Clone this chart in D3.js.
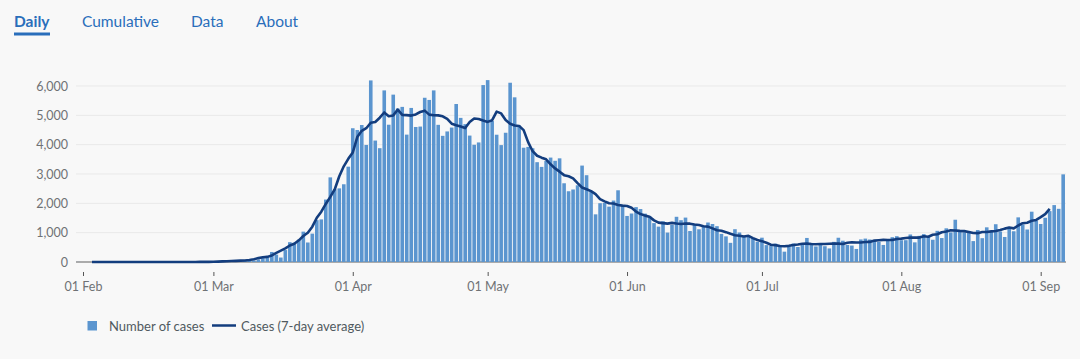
<!DOCTYPE html>
<html><head><meta charset="utf-8">
<script src="https://cdn.jsdelivr.net/npm/d3@7"></script>
<style>
html,body{margin:0;padding:0;background:#f8f8f8;}
svg{display:block;font-family:Lato,"Noto Sans",sans-serif;}
</style></head><body>
<svg id="chart" width="1080" height="359"></svg>
<script>
// ---- data ----
const firstDay = "2020-01-31";          // first bar
const firstAvgDay = "2020-02-03";       // first point of the 7-day average
const tabs = ["Daily", "Cumulative", "Data", "About"];
const yTicks = [0, 1000, 2000, 3000, 4000, 5000, 6000];
const legendLabels = ["Number of cases", "Cases (7-day average)"];

const casesJan = [2];
const casesFeb = [0,0,0,0,0,1,0,0,1,4,1,0,0,0,0,0,0,0,0,0,0,0,4,0,0,0,2,5,3];
const casesMar = [12,4,11,34,30,48,43,67,48,52,83,134,208,342,251,152,407,676,660,760,1035,665,967,1427,1452,2129,2885,2480,2510,2650,3250];
const casesApr = [4560,4500,4670,3990,6190,4140,3880,5850,4680,5706,5234,5288,4342,5252,4603,4617,5599,5525,5850,4676,4301,4451,4583,5386,4913,4700,4310,3996,4076,6032];
const casesMay = [6201,4806,4339,3985,4406,6111,5614,4649,3896,3923,3877,3403,3242,3446,3560,3450,3534,2684,2412,2472,2615,3287,2959,2409,1625,2004,2013,1887,2095,2445,1936];
const casesJun = [1570,1653,1871,1805,1650,1557,1326,1205,1387,1003,1266,1541,1425,1514,1056,1279,1115,1218,1346,1295,1221,958,874,653,1118,1006,890,901,815,689];
const casesJul = [829,576,544,624,516,352,581,630,512,642,820,650,530,598,538,463,687,827,726,580,560,445,769,798,767,747,685,581,763,846,880];
const casesAug = [743,744,938,670,892,950,871,758,1062,816,1148,1009,1441,1062,1012,1040,713,1089,812,1182,1033,1288,1041,853,1184,1048,1522,1276,1108,1715,1406];
const casesSep = [1295,1508,1735,1940,1813,2988];

const avgFeb = [0,0,0,0,1,1,1,1,1,1,1,0,0,0,0,0,0,1,1,1,1,1,2,2,3,4,5];
const avgMar = [10,14,20,26,34,40,46,53,68,91,133,160,175,225,310,385,464,563,622,739,884,995,1205,1509,1715,1979,2219,2479,2923,3262,3517];
const avgApr = [3733,4259,4471,4561,4746,4771,4919,5097,4968,4997,5193,5015,5006,4991,5032,5113,5160,5024,5003,4998,4967,4880,4716,4663,4620,4566,4773,4890,4874,4823];
const avgMay = [4776,4835,5126,5066,4844,4714,4655,4639,4496,4086,3777,3621,3557,3502,3331,3190,3080,2961,2922,2852,2691,2540,2482,2416,2312,2142,2068,2001,1993,1943,1922];
const avgJun = [1911,1847,1720,1633,1581,1543,1419,1342,1326,1308,1334,1313,1298,1314,1307,1279,1260,1219,1205,1147,1081,1066,1018,960,914,894,867,893,815,749];
const avgJul = [711,656,590,575,546,537,551,579,598,624,626,613,606,612,613,624,631,626,613,656,672,664,667,682,685,730,741,753,749,749,785];
const avgAug = [798,816,831,830,832,877,860,928,945,1015,1042,1079,1075,1061,1052,1024,987,983,1022,1023,1043,1056,1090,1138,1173,1147,1244,1323,1339,1404,1435];
const avgSep = [1530,1630,1812];

// ---- build series ----
const parse = d3.utcParse("%Y-%m-%d");
const cases = [].concat(casesJan, casesFeb, casesMar, casesApr, casesMay, casesJun, casesJul, casesAug, casesSep);
const avg = [].concat(avgFeb, avgMar, avgApr, avgMay, avgJun, avgJul, avgAug, avgSep);
const d0 = parse(firstDay), a0 = parse(firstAvgDay);
const barData = cases.map((v, i) => ({date: d3.utcDay.offset(d0, i), value: v}));
const avgData = avg.map((v, i) => ({date: d3.utcDay.offset(a0, i), value: v}));

// ---- layout ----
const svg = d3.select("#chart");
const BAR = "#5b95cf", LINE = "#133d7e", BLUE = "#2a6ebb", TXT = "#6f7275";

const x = d3.scaleUtc()
  .domain([parse("2020-02-01"), parse("2020-09-01")])
  .range([83, 1040.7]);
const dayW = x(parse("2020-02-02")) - x(parse("2020-02-01"));
const y = d3.scaleLinear().domain([0, 6000]).range([262, 86]);
const left = 76, right = 1066;

// tabs
const tabX = [14, 82, 191, 256];
svg.selectAll("text.tab").data(tabs).join("text")
  .attr("class", "tab")
  .attr("x", (d, i) => tabX[i]).attr("y", 27)
  .attr("fill", BLUE)
  .attr("font-size", 15.5)
  .attr("font-weight", (d, i) => i === 0 ? 700 : 400)
  .text(d => d);
svg.append("rect").attr("x", 14).attr("y", 32.5).attr("width", 36).attr("height", 3).attr("fill", BLUE);

// gridlines
svg.append("g").selectAll("line").data(yTicks.filter(t => t > 0)).join("line")
  .attr("x1", left).attr("x2", right)
  .attr("y1", d => y(d)).attr("y2", d => y(d))
  .attr("stroke", "#e9e9e9").attr("stroke-width", 1);

// y labels
const yAxis = d3.axisLeft(y).tickValues(yTicks).tickSize(0).tickPadding(0)
  .tickFormat(d3.format(","));
const gy = svg.append("g").attr("transform", "translate(68,0)").call(yAxis);
gy.select(".domain").remove();
gy.selectAll("text").attr("fill", TXT).attr("font-size", 12.5).attr("font-family", "Lato,'Noto Sans',sans-serif");

// baseline
svg.append("line").attr("x1", left).attr("x2", right)
  .attr("y1", y(0)).attr("y2", y(0))
  .attr("stroke", "#ababab").attr("stroke-width", 2);

// bars
const bw = dayW * 0.8;
svg.append("g").selectAll("rect").data(barData).join("rect")
  .attr("x", d => x(d.date) - bw / 2)
  .attr("width", bw)
  .attr("y", d => y(d.value))
  .attr("height", d => y(0) - y(d.value))
  .attr("fill", BAR);

// 7-day average line
svg.append("path").datum(avgData)
  .attr("fill", "none").attr("stroke", LINE).attr("stroke-width", 2.6)
  .attr("stroke-linejoin", "round")
  .attr("d", d3.line().x(d => x(d.date)).y(d => y(d.value)));

// x axis
const xAxis = d3.axisBottom(x)
  .ticks(d3.utcMonth.every(1))
  .tickFormat(d3.utcFormat("%d %b"))
  .tickSizeInner(4).tickSizeOuter(0).tickPadding(6);
const gx = svg.append("g").attr("transform", "translate(0,272)").call(xAxis);
gx.select(".domain").remove();
gx.selectAll(".tick line").attr("stroke", "#555");
gx.selectAll("text").attr("fill", TXT).attr("font-size", 12.5).attr("font-family", "Lato,'Noto Sans',sans-serif");

// legend
const lg = svg.append("g").attr("font-size", 13).attr("fill", "#505a5f");
lg.append("rect").attr("x", 87.5).attr("y", 321).attr("width", 9.5).attr("height", 9.5).attr("fill", BAR);
lg.append("text").attr("x", 109).attr("y", 331).attr("fill", "#505a5f").text(legendLabels[0]);
lg.append("line").attr("x1", 212).attr("x2", 236).attr("y1", 325.5).attr("y2", 325.5)
  .attr("stroke", LINE).attr("stroke-width", 2.5);
lg.append("text").attr("x", 241).attr("y", 331).attr("fill", "#505a5f").text(legendLabels[1]);
</script></body></html>
